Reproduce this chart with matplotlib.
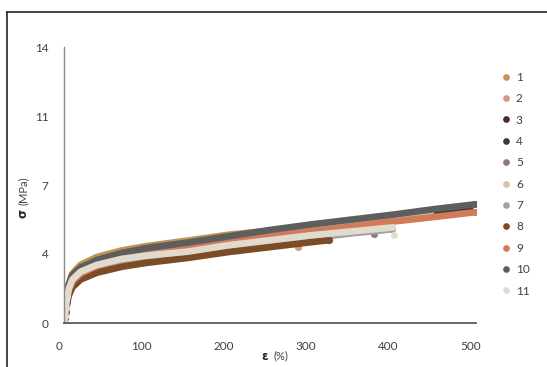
import matplotlib.pyplot as plt
import matplotlib.transforms as mtransforms
from matplotlib.lines import Line2D

# -----------------------------
# Data (strain %, stress MPa)
# -----------------------------
series_names = ["1", "2", "3", "4", "5", "6", "7", "8", "9", "10", "11"]

colors = ["#c39353", "#d29a80", "#4b2a27", "#3a3a3a", "#8d7a74", "#d6c3a9",
          "#a3a3a3", "#7d4b25", "#d27b5a", "#5e5e5e", "#e1dbcd"]

strain_1 = [0, 1, 2, 4, 6, 10, 20, 40, 70, 100, 150, 200, 235]
stress_1 = [0, 0.4, 0.9, 1.6, 2.0, 2.5, 2.95, 3.35, 3.68, 3.9, 4.18, 4.48, 4.62]

strain_2 = [0, 1, 2, 4, 6, 10, 20, 40, 70, 100, 150, 200, 262, 280, 284]
stress_2 = [0, 0.3, 0.7, 1.3, 1.7, 2.1, 2.5, 2.85, 3.15, 3.35, 3.55, 3.8, 4.05, 4.05, 3.85]

strain_3 = [0, 1, 2, 4, 6, 10, 20, 40, 70, 100, 150, 200, 250, 300, 350, 400, 450, 489]
stress_3 = [0, 0.4, 0.85, 1.5, 1.95, 2.4, 2.8, 3.15, 3.5, 3.75, 4.02, 4.33, 4.63, 4.92, 5.17, 5.42, 5.68, 5.86]

strain_4 = [0, 1, 2, 4, 6, 10, 20, 40, 70, 100, 150, 200, 250, 300, 350, 400, 450, 493]
stress_4 = [0, 0.4, 0.85, 1.5, 1.9, 2.35, 2.75, 3.1, 3.45, 3.7, 3.98, 4.28, 4.57, 4.85, 5.1, 5.35, 5.55, 5.72]

strain_5 = [0, 1, 2, 4, 6, 10, 20, 40, 70, 100, 150, 200, 250, 300, 350, 372, 376]
stress_5 = [0, 0.3, 0.7, 1.3, 1.7, 2.1, 2.5, 2.85, 3.15, 3.35, 3.55, 3.85, 4.1, 4.35, 4.6, 4.7, 4.5]

strain_6 = [0, 1, 2, 4, 6, 10, 20, 40, 70, 100, 150, 200, 250, 300, 350, 400, 444]
stress_6 = [0, 0.35, 0.8, 1.45, 1.85, 2.3, 2.7, 3.05, 3.4, 3.6, 3.85, 4.15, 4.45, 4.75, 5.05, 5.35, 5.62]

strain_7 = [0, 1, 2, 4, 6, 10, 20, 40, 70, 100, 150, 200, 250, 300, 350, 398]
stress_7 = [0, 0.3, 0.65, 1.25, 1.6, 2.0, 2.4, 2.75, 3.05, 3.25, 3.5, 3.8, 4.05, 4.3, 4.55, 4.75]

strain_8 = [0, 1, 2, 4, 6, 10, 20, 40, 70, 100, 150, 200, 250, 300, 322]
stress_8 = [0, 0.25, 0.55, 1.05, 1.4, 1.8, 2.2, 2.55, 2.85, 3.05, 3.3, 3.6, 3.85, 4.1, 4.2]

strain_9 = [0, 1, 2, 4, 6, 10, 20, 40, 70, 100, 150, 200, 250, 300, 350, 400, 450, 499]
stress_9 = [0, 0.35, 0.75, 1.35, 1.7, 2.1, 2.5, 2.9, 3.25, 3.5, 3.8, 4.12, 4.4, 4.65, 4.9, 5.15, 5.38, 5.62]

strain_10 = [0, 1, 2, 4, 6, 10, 20, 40, 70, 100, 150, 200, 250, 300, 350, 400, 450, 499]
stress_10 = [0, 0.4, 0.85, 1.5, 1.95, 2.4, 2.8, 3.2, 3.55, 3.8, 4.08, 4.4, 4.72, 5.0, 5.25, 5.5, 5.78, 6.02]

strain_11 = [0, 1, 2, 4, 6, 10, 20, 40, 70, 100, 150, 200, 250, 300, 350, 399, 400]
stress_11 = [0, 0.35, 0.75, 1.35, 1.75, 2.2, 2.6, 2.95, 3.25, 3.42, 3.62, 3.95, 4.2, 4.45, 4.65, 4.85, 4.45]

strains = [strain_1, strain_2, strain_3, strain_4, strain_5, strain_6,
           strain_7, strain_8, strain_9, strain_10, strain_11]
stresses = [stress_1, stress_2, stress_3, stress_4, stress_5, stress_6,
            stress_7, stress_8, stress_9, stress_10, stress_11]

y_ticks = [0, 3.5, 7, 10.5, 14]
y_tick_labels = ["0", "4", "7", "11", "14"]
x_ticks = [0, 100, 200, 300, 400, 500]

plt.rcParams['font.family'] = ['Lato', 'DejaVu Sans']

fig = plt.figure(figsize=(5.47, 3.67), dpi=100)
ax = fig.add_axes([64 / 547, 1 - 323 / 367, (476 - 64) / 547, (323 - 47) / 367])

for name, xs, ys, c in zip(series_names, strains, stresses, colors):
    # last point of a broken specimen is drawn as a lone dot
    cut = -1 if name in ("2", "5", "11") else len(xs)
    ax.plot(xs[:cut], ys[:cut], color=c, lw=4.8,
            solid_capstyle="round", solid_joinstyle="round")
    ax.plot(xs, ys, "o", color=c, ms=4.5, mec="#e8e2d6" if name == "11" else c, mew=0.6,
            markevery=[0, 1, 2, 3, len(xs) - 1])

ax.set_xlim(0, 500)
ax.set_ylim(0, 14)
ax.set_xticks(x_ticks)
ax.set_yticks(y_ticks)
ax.set_yticklabels(y_tick_labels)
ax.tick_params(length=0, labelsize=8.5, labelcolor="#404040")
ax.tick_params(axis="x", pad=13)
ax.tick_params(axis="y", pad=11)

# Excel draws the x labels a few pixels to the left
shift = mtransforms.ScaledTranslation(-5 / 100, 0, fig.dpi_scale_trans)
for lab in ax.get_xticklabels():
    lab.set_transform(lab.get_transform() + shift)

for side in ("top", "right"):
    ax.spines[side].set_visible(False)
ax.spines["left"].set_color("#8a8a8a")
ax.spines["left"].set_linewidth(1.0)
ax.spines["bottom"].set_color("#5a5a5a")
ax.spines["bottom"].set_linewidth(1.3)

# axis titles (Greek symbol bold)
fig.text(23 / 547, 1 - 213 / 367, "σ", fontsize=8.5, fontweight="bold", rotation=90,
         ha="center", va="center", color="#262626", family=['DejaVu Sans'])
fig.text(23 / 547, 1 - 191 / 367, "(MPa)", fontsize=8, rotation=90,
         ha="center", va="center", color="#404040")
fig.text(265 / 547, 1 - 356 / 367, "ε", fontsize=8.5, fontweight="bold",
         ha="center", va="center", color="#262626", family=['DejaVu Sans'])
fig.text(281 / 547, 1 - 356 / 367, "(%)", fontsize=8, ha="center", va="center", color="#404040")

# legend: markers only
handles = [Line2D([], [], ls="", marker="o", ms=3.8, color=c) for c in colors]
fig.legend(handles, series_names, loc="upper left", bbox_to_anchor=(497 / 547, 1 - 67 / 367),
           frameon=False, fontsize=8.5, handlelength=0.8, handletextpad=0.4,
           labelspacing=0.88, borderaxespad=0, labelcolor="#404040")

# outer frame of the chart area
fig.add_artist(Line2D([7 / 547, 1], [1 - 12 / 367, 1 - 12 / 367], color="#262626", lw=1.2,
                      transform=fig.transFigure))
fig.add_artist(Line2D([7 / 547, 7 / 547], [0, 1 - 12 / 367], color="#262626", lw=1.2,
                      transform=fig.transFigure))

fig.savefig("out.png", dpi=100)
